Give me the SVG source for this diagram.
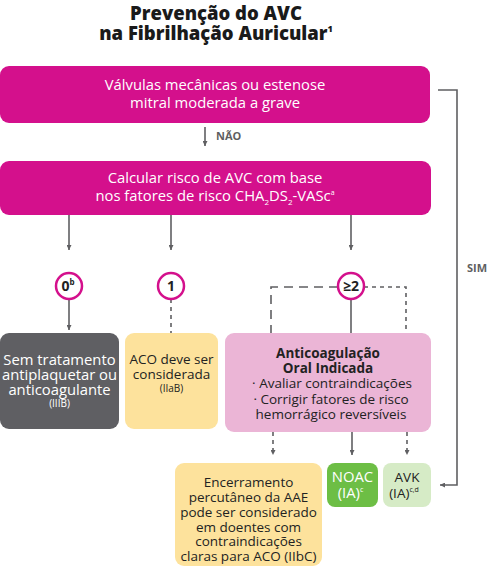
<svg xmlns="http://www.w3.org/2000/svg" width="489" height="567" viewBox="0 0 489 567">
<defs>
<marker id="ah" viewBox="0 0 10 10" refX="10" refY="5" markerWidth="5" markerHeight="5" orient="auto" markerUnits="userSpaceOnUse">
<path d="M0,0 L10,5 L0,10 Z" fill="#5f5f62"/>
</marker>
<style>
text{font-family:"Open Sans","Liberation Sans",sans-serif;}
.w{fill:#fff;font-size:14.8px;text-anchor:middle;}
.d{fill:#222;font-size:13.5px;text-anchor:middle;}
.s{font-size:10px;}
.ln{stroke:#5f5f62;stroke-width:1.6;fill:none;}
.da{stroke-dasharray:4,4;}
.dl{stroke-dasharray:9,6;}
.circ{fill:#fff;stroke:#d4108c;stroke-width:2.5;}
.ct{fill:#222;font-size:14px;font-weight:700;text-anchor:middle;}
</style>
</defs>
<rect width="489" height="567" fill="#fff"/>
<g id="title">
<text x="216" y="20" text-anchor="middle" font-size="18.5" font-weight="800" fill="#1a1a1a">Prevenção do AVC</text>
<text x="216" y="40" text-anchor="middle" font-size="18.5" font-weight="800" fill="#1a1a1a">na Fibrilhação Auricular<tspan font-size="9" dy="-8">1</tspan></text>
</g>
<g id="connectors">
<path class="ln" d="M205,127 V146" marker-end="url(#ah)"/>
<path class="ln" d="M69,215 V250" marker-end="url(#ah)"/>
<path class="ln" d="M171,215 V250" marker-end="url(#ah)"/>
<path class="ln" d="M351,215 V250" marker-end="url(#ah)"/>
<path class="ln" d="M69,299 V330" marker-end="url(#ah)"/>
<path class="ln da" d="M171,299 V333"/>
<path class="ln" d="M351,299 V333"/>
<path class="ln dl" d="M338,287 H271 V333"/>
<path class="ln da" d="M364,287 H406 V333"/>
<path class="ln da" d="M273,432 V455" marker-end="url(#ah)"/>
<path class="ln" d="M352,432 V455" marker-end="url(#ah)"/>
<path class="ln da" d="M407,432 V455" marker-end="url(#ah)"/>
<path class="ln" d="M438,90 H457 V485 H440" marker-end="url(#ah)"/>
<text x="216" y="140" font-size="11" font-weight="700" fill="#5f5f62">NÃO</text>
<text x="477" y="272" text-anchor="middle" font-size="11" font-weight="700" fill="#5f5f62">SIM</text>
</g>
<g id="valvulas">
<rect x="0" y="66" width="430" height="57" rx="9" fill="#d4108c"/>
<text class="w" x="215" y="90">Válvulas mecânicas ou estenose</text>
<text class="w" x="215" y="108">mitral moderada a grave</text>
</g>
<g id="calcular">
<rect x="0" y="161" width="431" height="54" rx="9" fill="#d4108c"/>
<text class="w" x="215" y="183">Calcular risco de AVC com base</text>
<text class="w" x="215" y="201">nos fatores de risco CHA<tspan font-size="8" dy="4">2</tspan><tspan dy="-4">DS</tspan><tspan font-size="8" dy="4">2</tspan><tspan dy="-4">-VASc</tspan><tspan font-size="7" dy="-6">a</tspan></text>
</g>
<g id="score0">
<circle class="circ" cx="69" cy="286" r="13"/>
<text class="ct" x="68" y="291">0<tspan font-size="8" dy="-6">b</tspan></text>
</g>
<g id="score1">
<circle class="circ" cx="171" cy="286" r="13"/>
<text class="ct" x="171" y="291">1</text>
</g>
<g id="score2">
<circle class="circ" cx="351" cy="286" r="13"/>
<text class="ct" x="351" y="291">≥2</text>
</g>
<g id="semtratamento">
<rect x="0" y="333" width="119" height="96" rx="9" fill="#5f5f63"/>
<text class="w" x="59.5" y="365" font-size="13.2">Sem tratamento</text>
<text class="w" x="59.5" y="380" font-size="13.2">antiplaquetar ou</text>
<text class="w" x="59.5" y="395" font-size="13.2">anticoagulante</text>
<text class="w s" x="59.5" y="407">(IIIB)</text>
</g>
<g id="aco">
<rect x="125" y="333" width="93" height="96" rx="9" fill="#fde29c"/>
<text class="d" x="171.5" y="364">ACO deve ser</text>
<text class="d" x="171.5" y="379">considerada</text>
<text class="d s" x="171.5" y="392">(IIaB)</text>
</g>
<g id="anticoagulacao">
<rect x="225" y="333" width="206" height="99" rx="9" fill="#ebb5d6"/>
<text class="d" x="328" y="358" font-weight="700">Anticoagulação</text>
<text class="d" x="328" y="373" font-weight="700">Oral Indicada</text>
<text class="d" x="332" y="388">· Avaliar contraindicações</text>
<text class="d" x="331" y="404">· Corrigir fatores de risco</text>
<text class="d" x="331" y="419">hemorrágico reversíveis</text>
</g>
<g id="encerramento">
<rect x="175" y="463" width="147" height="103" rx="9" fill="#fde29c"/>
<text class="d" x="248.5" y="487">Encerramento</text>
<text class="d" x="248.5" y="502">percutâneo da AAE</text>
<text class="d" x="248.5" y="517">pode ser considerado</text>
<text class="d" x="248.5" y="532">em doentes com</text>
<text class="d" x="248.5" y="546">contraindicações</text>
<text class="d" x="248.5" y="561">claras para ACO (IIbC)</text>
</g>
<g id="noac">
<rect x="327" y="463" width="51" height="44" rx="8" fill="#6dbe45"/>
<text class="w" x="352.5" y="482" font-size="13.5">NOAC</text>
<text class="w" x="350.5" y="498" font-size="13.5">(IA)<tspan font-size="7" dy="-6">c</tspan></text>
</g>
<g id="avk">
<rect x="383" y="463" width="48" height="44" rx="8" fill="#d6ebc6"/>
<text class="d" x="407" y="482">AVK</text>
<text class="d" x="404" y="498">(IA)<tspan font-size="7" dy="-6">c,d</tspan></text>
</g>
</svg>
